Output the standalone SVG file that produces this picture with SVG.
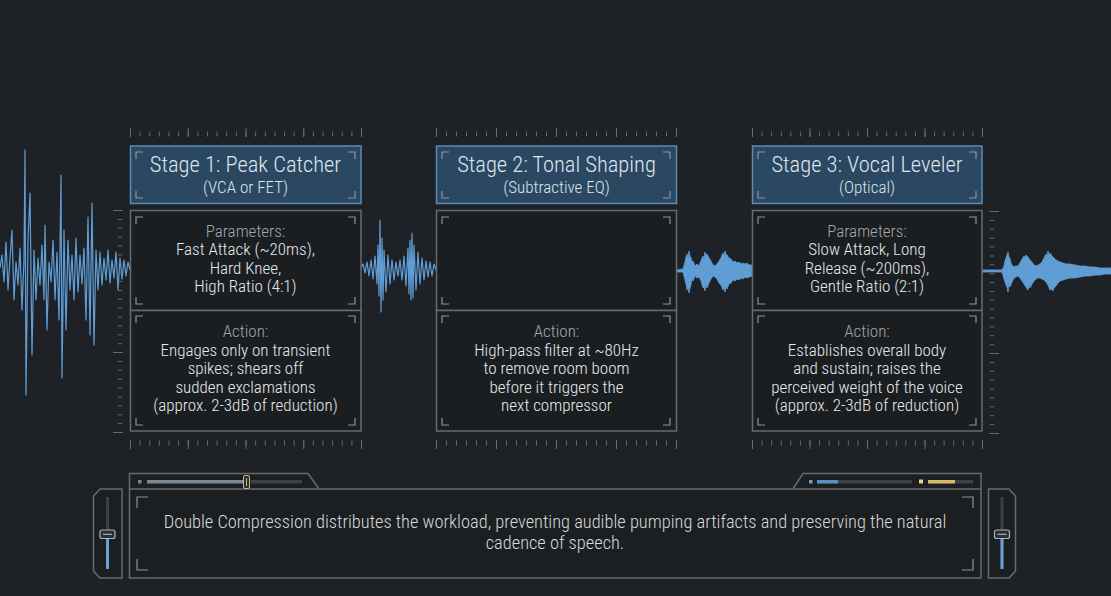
<svg xmlns="http://www.w3.org/2000/svg" width="1111" height="596" viewBox="0 0 1111 596">
<defs>
<style>
.bg{fill:#1e2226}
.hdr{fill:#2a4862;stroke:#5a8cb6;stroke-width:1.5}
.body{fill:#1b1e21;stroke:#676b70;stroke-width:1.5}
.brk{fill:none;stroke:#8d949b;stroke-width:1.2}
.tick{stroke:#666b70;fill:none}
.wave{fill:none;stroke:#5f9dd4;stroke-width:1.2;stroke-linejoin:round}
.wfill{fill:#5f9dd4;stroke:#5f9dd4;stroke-width:0.8}
.t{font-family:"Roboto Condensed","Liberation Sans Narrow","Liberation Sans",sans-serif;text-anchor:middle;font-weight:300}
.title{font-size:22.5px;fill:#dfe5eb}
.sub{font-size:17px;fill:#dfe5eb}
.lbl{font-size:17px;fill:#a2a7ad}
.txt{font-size:17px;fill:#e8eaec}
.foot{font-size:18.4px;fill:#d6dadd}
.panel{fill:#1c1f22;stroke:#676b70;stroke-width:1.5}
</style>
</defs>
<rect class="bg" x="0" y="0" width="1111" height="596"/>

<g id="waves">
<path class="wave" d="M0,268 L2,255 L4,282 L6,242 L8,290 L10,258 L12,230 L14,300 L16,262 L18,285 L20,248 L22,310 L24,260 L25,150 L26,395 L28,240 L30,193 L32,355 L34,250 L36,300 L38,258 L40,285 L42,245 L44,300 L45,225 L47,330 L49,262 L51,282 L53,240 L55,300 L57,252 L59,320 L61,175 L62,378 L64,230 L66,330 L68,240 L70,290 L72,255 L74,300 L76,238 L78,292 L80,255 L82,284 L84,248 L86,320 L88,217 L90,335 L92,203 L94,345 L96,250 L98,290 L100,252 L102,285 L104,258 L106,280 L108,250 L110,283 L112,260 L114,278 L116,252 L118,290 L120,258 L122,279 L124,260 L126,276 L128,262 L130,270"/>
<path class="wave" d="M361,268 L363,264 L365,273 L367,262 L369,276 L371,260 L373,279 L375,256 L377,284 L378,245 L379,296 L380,220 L381,312 L382,238 L383,300 L384,250 L386,292 L388,255 L390,284 L392,260 L394,280 L396,262 L398,276 L400,260 L402,280 L404,256 L406,286 L408,248 L409,294 L410,240 L411,300 L412,233 L413,298 L414,245 L416,290 L418,252 L420,284 L422,258 L424,280 L426,261 L428,277 L430,262 L432,276 L434,264 L436,270"/>
<path class="wfill" d="M676,270 L683,269 L685,262 L686,257 L687,254 L688,258 L689,251 L690,256 L691,258 L692,262 L693,261 L695,266 L697,264 L699,266 L700,263 L701,261 L702,258 L703,256 L704,259 L705,252 L706,255 L707,254 L709,258 L711,261 L713,265 L715,266 L717,264 L719,261 L721,258 L722,255 L723,253 L724,256 L725,251 L726,254 L727,255 L729,258 L731,259 L733,262 L735,261 L737,263 L739,262 L741,264 L743,263 L745,264 L747,263 L749,265 L752,265 L752,276 L749,277 L747,278 L745,277 L743,279 L741,278 L739,280 L737,279 L735,281 L733,280 L731,283 L729,284 L727,289 L726,286 L725,292 L724,288 L723,290 L721,285 L719,283 L717,279 L715,277 L713,276 L711,279 L709,283 L707,288 L706,285 L705,291 L704,287 L703,288 L701,281 L699,277 L697,278 L695,276 L693,281 L692,279 L691,285 L690,288 L689,293 L688,287 L687,290 L686,284 L685,280 L683,272 L676,272 Z"/>
<path class="wfill" d="M982,270 L1002,270 L1004,266 L1005,261 L1006,258 L1007,255 L1008,252 L1009,257 L1010,259 L1011,263 L1012,265 L1014,267 L1016,266 L1018,266 L1020,263 L1022,259 L1023,258 L1024,256 L1025,258 L1026,255 L1028,257 L1030,260 L1032,262 L1034,265 L1036,266 L1038,265 L1040,264 L1042,262 L1044,258 L1045,256 L1046,254 L1047,256 L1048,251 L1049,255 L1050,253 L1052,256 L1054,258 L1056,260 L1058,261 L1060,262 L1063,263 L1066,264 L1070,264 L1075,265 L1080,266 L1085,266 L1090,267 L1095,267 L1100,268 L1105,268 L1111,268 L1111,274 L1105,274 L1100,275 L1095,275 L1090,276 L1085,276 L1080,277 L1075,278 L1070,278 L1066,279 L1063,280 L1060,281 L1058,283 L1056,286 L1054,288 L1053,291 L1052,289 L1050,290 L1048,285 L1046,282 L1044,280 L1042,279 L1040,278 L1038,278 L1036,279 L1034,281 L1032,284 L1030,288 L1029,285 L1028,290 L1026,287 L1024,284 L1022,281 L1020,278 L1018,276 L1016,277 L1014,278 L1012,282 L1010,287 L1009,284 L1008,292 L1007,287 L1006,285 L1004,279 L1002,272 L982,272 Z"/>
</g>

<g id="rulers">
<line class="tick" x1="130" y1="134" x2="362" y2="134" stroke-width="5" stroke-dasharray="1 8.625"/>
<line class="tick" x1="130" y1="132.5" x2="362" y2="132.5" stroke-width="9" stroke-dasharray="1 56.75"/>
<line class="tick" x1="436" y1="134" x2="677" y2="134" stroke-width="5" stroke-dasharray="1 9"/>
<line class="tick" x1="436" y1="132.5" x2="677" y2="132.5" stroke-width="9" stroke-dasharray="1 59"/>
<line class="tick" x1="752" y1="134" x2="983" y2="134" stroke-width="5" stroke-dasharray="1 8.583"/>
<line class="tick" x1="752" y1="132.5" x2="983" y2="132.5" stroke-width="9" stroke-dasharray="1 56.5"/>
<line class="tick" x1="130" y1="443" x2="362" y2="443" stroke-width="5" stroke-dasharray="1 8.625"/>
<line class="tick" x1="130" y1="444.5" x2="362" y2="444.5" stroke-width="9" stroke-dasharray="1 56.75"/>
<line class="tick" x1="436" y1="443" x2="677" y2="443" stroke-width="5" stroke-dasharray="1 9"/>
<line class="tick" x1="436" y1="444.5" x2="677" y2="444.5" stroke-width="9" stroke-dasharray="1 59"/>
<line class="tick" x1="752" y1="443" x2="983" y2="443" stroke-width="5" stroke-dasharray="1 8.583"/>
<line class="tick" x1="752" y1="444.5" x2="983" y2="444.5" stroke-width="9" stroke-dasharray="1 56.5"/>
<line class="tick" x1="120" y1="210" x2="120" y2="434" stroke-width="4" stroke-dasharray="1 7.88"/>
<path class="tick" stroke-width="1.2" d="M113,210.5 H123 M113,352.5 H123 M113,432.5 H123"/>
<line class="tick" x1="992" y1="211" x2="992" y2="435" stroke-width="4" stroke-dasharray="1 7.88"/>
<path class="tick" stroke-width="1.2" d="M989,211.5 H999 M989,353.5 H999 M989,433.5 H999"/>
</g>

<g id="stage1">
<rect class="hdr" x="130.5" y="146" width="230.5" height="57.5"/>
<path class="brk" d="M136,159 V152 H143 M355,159 V152 H348 M136,191 V198 H143 M355,191 V198 H348"/>
<rect class="body" x="130.5" y="210.5" width="230.5" height="100"/>
<rect class="body" x="130.5" y="310.5" width="230.5" height="120.5"/>
<path class="brk" d="M136,224 V217 H143 M355,224 V217 H348 M136,297 V304 H143 M355,297 V304 H348"/>
<path class="brk" d="M136,323 V316 H143 M355,323 V316 H348 M136,418 V425 H143 M355,418 V425 H348"/>
<text class="t title" x="245.5" y="172">Stage 1: Peak Catcher</text>
<text class="t sub" x="245.5" y="193">(VCA or FET)</text>
<text class="t lbl" x="245.5" y="237">Parameters:</text>
<text class="t txt" x="245.5" y="255">Fast Attack (~20ms),</text>
<text class="t txt" x="245.5" y="273.5">Hard Knee,</text>
<text class="t txt" x="245.5" y="292">High Ratio (4:1)</text>
<text class="t lbl" x="245.5" y="337">Action:</text>
<text class="t txt" x="245.5" y="355.5">Engages only on transient</text>
<text class="t txt" x="245.5" y="374">spikes; shears off</text>
<text class="t txt" x="245.5" y="392.5">sudden exclamations</text>
<text class="t txt" x="245.5" y="411">(approx. 2-3dB of reduction)</text>
</g>

<g id="stage2">
<rect class="hdr" x="436.5" y="146" width="240" height="57.5"/>
<path class="brk" d="M442,159 V152 H449 M670,159 V152 H663 M442,191 V198 H449 M670,191 V198 H663"/>
<rect class="body" x="436.5" y="210.5" width="240" height="100"/>
<rect class="body" x="436.5" y="310.5" width="240" height="120.5"/>
<path class="brk" d="M442,224 V217 H449 M670,224 V217 H663 M442,297 V304 H449 M670,297 V304 H663"/>
<path class="brk" d="M442,323 V316 H449 M670,323 V316 H663 M442,418 V425 H449 M670,418 V425 H663"/>
<text class="t title" x="556.5" y="172">Stage 2: Tonal Shaping</text>
<text class="t sub" x="556.5" y="193">(Subtractive EQ)</text>
<text class="t lbl" x="556.5" y="337">Action:</text>
<text class="t txt" x="556.5" y="355.5">High-pass filter at ~80Hz</text>
<text class="t txt" x="556.5" y="374">to remove room boom</text>
<text class="t txt" x="556.5" y="392.5">before it triggers the</text>
<text class="t txt" x="556.5" y="411">next compressor</text>
</g>

<g id="stage3">
<rect class="hdr" x="752.5" y="146" width="229.5" height="57.5"/>
<path class="brk" d="M758,159 V152 H765 M976,159 V152 H969 M758,191 V198 H765 M976,191 V198 H969"/>
<rect class="body" x="752.5" y="210.5" width="229.5" height="100"/>
<rect class="body" x="752.5" y="310.5" width="229.5" height="120.5"/>
<path class="brk" d="M758,224 V217 H765 M976,224 V217 H969 M758,297 V304 H765 M976,297 V304 H969"/>
<path class="brk" d="M758,323 V316 H765 M976,323 V316 H969 M758,418 V425 H765 M976,418 V425 H969"/>
<text class="t title" x="867" y="172">Stage 3: Vocal Leveler</text>
<text class="t sub" x="867" y="193">(Optical)</text>
<text class="t lbl" x="867" y="237">Parameters:</text>
<text class="t txt" x="867" y="255">Slow Attack, Long</text>
<text class="t txt" x="867" y="273.5">Release (~200ms),</text>
<text class="t txt" x="867" y="292">Gentle Ratio (2:1)</text>
<text class="t lbl" x="867" y="337">Action:</text>
<text class="t txt" x="867" y="355.5">Establishes overall body</text>
<text class="t txt" x="867" y="374">and sustain; raises the</text>
<text class="t txt" x="867" y="392.5">perceived weight of the voice</text>
<text class="t txt" x="867" y="411">(approx. 2-3dB of reduction)</text>
</g>

<g id="summary">
<path class="panel" d="M129.5,489 V473.5 H308 L319,489"/>
<path class="panel" d="M793,489 L803,473.5 H981 V489"/>
<rect class="panel" x="129.5" y="489" width="851.5" height="89"/>
<path class="brk" d="M137,508 V497 H148 M973,508 V497 H962 M137,559 V570 H148 M973,559 V570 H962"/>
<rect x="138" y="480" width="3.5" height="3.5" fill="#7b8590"/>
<rect x="147" y="480" width="97" height="3.5" fill="#7b8894"/>
<rect x="251" y="480" width="51" height="3.5" fill="#3a4148"/>
<rect x="243.5" y="475.5" width="6" height="13" rx="1.5" fill="#2c2f30" stroke="#c8b88a" stroke-width="1"/>
<line x1="246.5" y1="478" x2="246.5" y2="486" stroke="#c8b88a" stroke-width="1"/>
<rect x="809" y="480" width="3.5" height="3.5" fill="#6b9fd0"/>
<rect x="817" y="480" width="95" height="3.5" fill="#3a4148"/>
<rect x="817" y="480" width="21" height="3.5" fill="#5c8fbf"/>
<rect x="919" y="479.5" width="4" height="4" fill="#ead08c"/>
<rect x="928" y="480" width="45" height="3.5" fill="#3a4148"/>
<rect x="928" y="480" width="27" height="3.5" fill="#d9b96c"/>
<text class="t foot" x="555" y="528">Double Compression distributes the workload, preventing audible pumping artifacts and preserving the natural</text>
<text class="t foot" x="555" y="549">cadence of speech.</text>
</g>

<g id="slider-left">
<path class="panel" d="M100,489 H122 V578 H100 L93.5,571 V496 Z"/>
<rect x="106" y="497" width="3" height="72" fill="#394047"/>
<rect x="106" y="538" width="3" height="31" fill="#6aa0d4"/>
<rect x="100" y="530" width="15" height="8.5" rx="2" fill="#2b3035" stroke="#aab2b8" stroke-width="1.2"/>
<line x1="103" y1="534.3" x2="112" y2="534.3" stroke="#aab2b8" stroke-width="1.2"/>
</g>

<g id="slider-right">
<path class="panel" d="M988.5,489 H1009 L1015.5,496 V571 L1009,578 H988.5 Z"/>
<rect x="1000.5" y="497" width="3" height="72" fill="#394047"/>
<rect x="1000.5" y="538" width="3" height="31" fill="#6aa0d4"/>
<rect x="994.5" y="530" width="15" height="8.5" rx="2" fill="#2b3035" stroke="#aab2b8" stroke-width="1.2"/>
<line x1="997.5" y1="534.3" x2="1006.5" y2="534.3" stroke="#aab2b8" stroke-width="1.2"/>
</g>
</svg>
